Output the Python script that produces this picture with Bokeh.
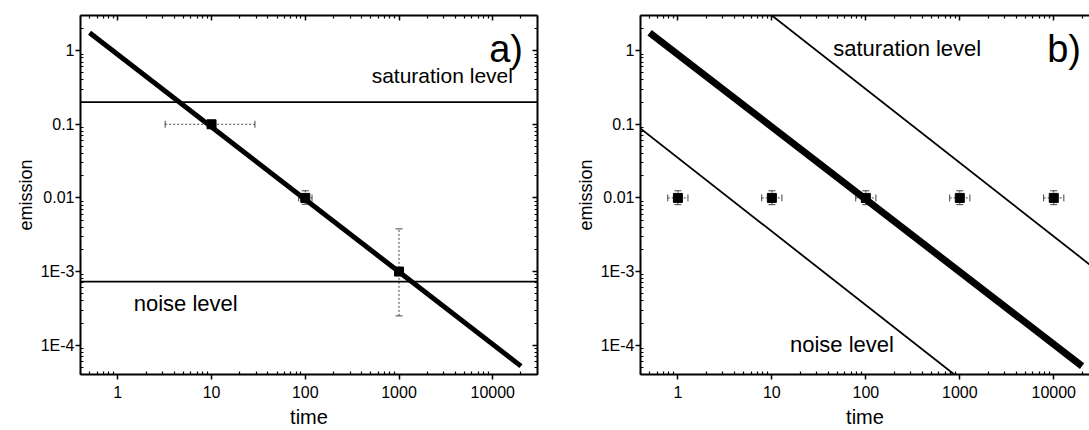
from bokeh.plotting import figure
from bokeh.models import (FixedTicker, LogAxis, Whisker,
                          ColumnDataSource, Label, TeeHead, Range1d)
from bokeh.layouts import row
from bokeh.embed import file_html
from bokeh.resources import INLINE

# ---------------- data ----------------
x_ticks = [1, 10, 100, 1000, 10000]
x_tick_labels = ["1", "10", "100", "1000", "10000"]
y_ticks = [1e-4, 1e-3, 1e-2, 1e-1, 1]
y_tick_labels = ["1E-4", "1E-3", "0.01", "0.1", "1"]

# panel a
fit_x = [0.5, 20000]
fit_y = [1.75, 5.2e-5]
sat_a_x = [0.3, 40000]
sat_a_y = [0.2, 0.2]
noise_a_x = [0.3, 40000]
noise_a_y = [7.3e-4, 7.3e-4]
a_x = [10, 100, 1000]
a_y = [0.1, 0.01, 0.001]
a_xlo = [3.2, 85, 960]
a_xhi = [29, 118, 1040]
a_ylo = [0.09, 0.0082, 0.00025]
a_yhi = [0.11, 0.0125, 0.0038]

# panel b
noise_b_x = [0.3, 1000]
noise_b_y = [0.117, 3.5e-5]
sat_b_x = [8, 30000]
sat_b_y = [3.75, 0.001]
b_x = [1, 10, 100, 1000, 10000]
b_y = [0.01, 0.01, 0.01, 0.01, 0.01]
b_xlo = [0.78, 7.8, 78, 780, 7800]
b_xhi = [1.28, 12.8, 128, 1280, 12800]
b_ylo = [0.0081, 0.0081, 0.0081, 0.0081, 0.0081]
b_yhi = [0.0125, 0.0125, 0.0125, 0.0125, 0.0125]

FONT = "Liberation Sans"
minor_all = [m * 10.0 ** e for e in range(-6, 6) for m in range(2, 10)]


def make_fig(width, x_end, left_border, right_border, top_border, bottom_border, mirror_right):
    p = figure(width=width, height=430, x_axis_type="log", y_axis_type="log",
               x_range=Range1d(0.4, x_end), y_range=Range1d(4e-5, 3),
               output_backend="svg", toolbar_location=None,
               min_border_left=left_border, min_border_right=right_border,
               min_border_top=top_border, min_border_bottom=bottom_border)
    p.grid.visible = False
    p.outline_line_color = None
    p.background_fill_color = "white"
    p.border_fill_color = "white"

    xt = FixedTicker(ticks=x_ticks, minor_ticks=minor_all)
    yt = FixedTicker(ticks=y_ticks, minor_ticks=minor_all)

    for ax, tk, vals, labs in ((p.xaxis[0], xt, x_ticks, x_tick_labels),
                               (p.yaxis[0], yt, y_ticks, y_tick_labels)):
        ax.ticker = tk
        ax.major_label_overrides = {v: s for v, s in zip(vals, labs)}
        ax.axis_line_width = 2
        ax.major_tick_line_width = 1.5
        ax.minor_tick_line_width = 1.2
        ax.major_tick_out = 5
        ax.major_tick_in = 0
        ax.minor_tick_out = 0
        ax.minor_tick_in = 3
        ax.major_label_text_font = FONT
        ax.major_label_text_font_size = "16px"
        ax.major_label_text_color = "black"
        ax.axis_label_text_font = FONT
        ax.axis_label_text_font_style = "normal"
        ax.axis_label_text_color = "black"

    p.xaxis[0].axis_label = "time"
    p.xaxis[0].axis_label_text_font_size = "20px"
    p.yaxis[0].axis_label = "emission"
    p.yaxis[0].axis_label_text_font_size = "18px"
    p.xaxis[0].major_label_standoff = 6
    p.xaxis[0].axis_label_standoff = 5
    p.yaxis[0].major_label_standoff = 1
    p.yaxis[0].axis_label_standoff = 2

    def mirror(tk, where):
        a = LogAxis(ticker=tk, major_label_text_font_size="2px", major_label_text_alpha=0,
                    axis_line_width=2,
                    major_tick_in=5, major_tick_out=0, minor_tick_in=3, minor_tick_out=0,
                    major_tick_line_width=1.5, minor_tick_line_width=1.2,
                    major_label_standoff=0)
        p.add_layout(a, where)

    mirror(xt, "above")
    if mirror_right:
        mirror(yt, "right")
    return p


def errbars(p, xs, ys, xlo, xhi, ylo, yhi):
    src = ColumnDataSource(dict(x=xs, y=ys, xlo=xlo, xhi=xhi, ylo=ylo, yhi=yhi))
    for dim, base, lo, hi in (("height", "x", "ylo", "yhi"), ("width", "y", "xlo", "xhi")):
        w = Whisker(source=src, base=base, lower=lo, upper=hi, dimension=dim,
                    line_color="#444444", line_width=1, line_dash="2 2",
                    lower_head=TeeHead(size=7, line_color="#444444", line_width=1),
                    upper_head=TeeHead(size=7, line_color="#444444", line_width=1))
        p.add_layout(w)
    p.scatter(xs, ys, marker="square", size=9, color="black")


def label(p, x, y, text, align, size):
    p.add_layout(Label(x=x, y=y, text=text, text_align=align, text_baseline="top",
                       text_font=FONT, text_font_size=size, text_color="black"))


# ---------------- panel a ----------------
p1 = make_fig(545, 30000, 80, 8, 15, 53, True)
p1.line(sat_a_x, sat_a_y, line_color="black", line_width=1.8)
p1.line(noise_a_x, noise_a_y, line_color="black", line_width=1.8)
errbars(p1, a_x, a_y, a_xlo, a_xhi, a_ylo, a_yhi)
p1.line(fit_x, fit_y, line_color="black", line_width=5)
label(p1, 21000, 2.04, "a)", "right", "38px")
label(p1, 16400, 0.65, "saturation level", "right", "21px")
label(p1, 1.48, 5.5e-4, "noise level", "left", "22px")

# ---------------- panel b ----------------
p2 = make_fig(544, 24000, 95, 0, 14, 54, False)
p2.line(sat_b_x, sat_b_y, line_color="black", line_width=1.8)
p2.line(noise_b_x, noise_b_y, line_color="black", line_width=1.8)
p2.line(fit_x, fit_y, line_color="black", line_width=7)
errbars(p2, b_x, b_y, b_xlo, b_xhi, b_ylo, b_yhi)
label(p2, 19500, 2.04, "b)", "right", "38px")
label(p2, 45, 1.59, "saturation level", "left", "22px")
label(p2, 15.6, 1.5e-4, "noise level", "left", "22px")

layout = row(p1, p2)
open("out.html", "w").write(file_html(layout, INLINE))
